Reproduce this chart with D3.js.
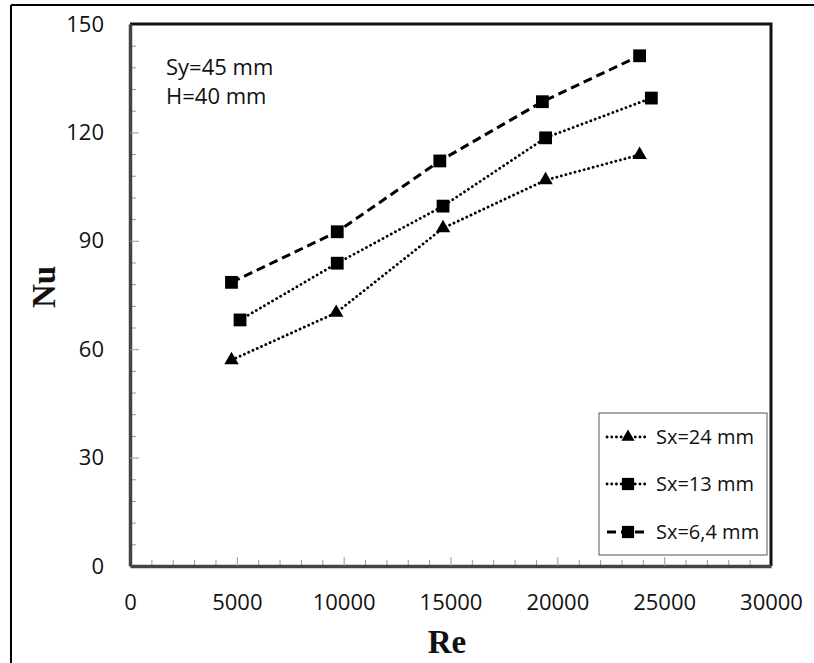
<!DOCTYPE html>
<html>
<head>
<meta charset="utf-8">
<script src="https://cdn.jsdelivr.net/npm/d3@7"></script>
<style>
  html, body { margin: 0; padding: 0; background: #fff; }
  svg { display: block; }
</style>
</head>
<body>
<svg id="chart" width="814" height="663"></svg>
<script>
// ---- data ----
const reSx24 = [4750, 9650, 14650, 19450, 23850];
const nuSx24 = [57.0, 70.1, 93.5, 106.8, 113.8];
const reSx13 = [5150, 9700, 14650, 19450, 24400];
const nuSx13 = [68.1, 83.8, 99.6, 118.5, 129.5];
const reSx64 = [4750, 9700, 14500, 19300, 23850];
const nuSx64 = [78.5, 92.5, 112.1, 128.5, 141.2];
const seriesNames = ["Sx=24 mm", "Sx=13 mm", "Sx=6,4 mm"];
const xTicks = [0, 5000, 10000, 15000, 20000, 25000, 30000];
const yTicks = [0, 30, 60, 90, 120, 150];
const annotations = ["Sy=45 mm", "H=40 mm"];
const xTitle = "Re";
const yTitle = "Nu";

const series = [
  { name: seriesNames[0], re: reSx24, nu: nuSx24, marker: "triangle", dash: "dot" },
  { name: seriesNames[1], re: reSx13, nu: nuSx13, marker: "square", dash: "dot" },
  { name: seriesNames[2], re: reSx64, nu: nuSx64, marker: "square", dash: "dash" }
];

// ---- layout ----
const svg = d3.select("#chart");
const L = 130, R = 771, T = 24, B = 566;
const x = d3.scaleLinear().domain([0, 30000]).range([L, R]);
const y = d3.scaleLinear().domain([0, 150]).range([B, T]);
const FONT = "'Open Sans', 'Noto Sans', sans-serif";
const SERIF = "'Liberation Serif', 'DejaVu Serif', serif";

// outer frame (left & top visible)
svg.append("line").attr("x1", 11).attr("x2", 11).attr("y1", 5).attr("y2", 663)
  .attr("stroke", "#000").attr("stroke-width", 2);
svg.append("line").attr("x1", 11).attr("x2", 814).attr("y1", 5).attr("y2", 5)
  .attr("stroke", "#000").attr("stroke-width", 2);

// plot area border top/right
svg.append("path")
  .attr("d", `M${L},${T}H${R}V${B}`)
  .attr("fill", "none").attr("stroke", "#111").attr("stroke-width", 3);

// minor ticks
const xMinor = d3.range(0, 30001, 1000).filter(v => v % 5000 !== 0);
const yMinor = d3.range(0, 151, 6).filter(v => v % 30 !== 0);

svg.append("g").attr("transform", `translate(0,${B})`)
  .call(d3.axisBottom(x).tickValues(xMinor).tickSize(-6).tickFormat(""))
  .call(g => g.select(".domain").remove())
  .call(g => g.selectAll("line").attr("stroke", "#999").attr("stroke-width", 1));
svg.append("g").attr("transform", `translate(${L},0)`)
  .call(d3.axisLeft(y).tickValues(yMinor).tickSize(-6).tickFormat(""))
  .call(g => g.select(".domain").remove())
  .call(g => g.selectAll("line").attr("stroke", "#999").attr("stroke-width", 1));

// major axes
const xAxis = svg.append("g").attr("transform", `translate(0,${B})`)
  .call(d3.axisBottom(x).tickValues(xTicks).tickSize(-9).tickSizeOuter(0).tickPadding(28).tickFormat(d3.format("d")));
const yAxis = svg.append("g").attr("transform", `translate(${L},0)`)
  .call(d3.axisLeft(y).tickValues(yTicks).tickSize(-9).tickSizeOuter(0).tickPadding(26));
[xAxis, yAxis].forEach(g => {
  g.selectAll(".tick line").attr("stroke", "#999").attr("stroke-width", 1);
  g.select(".domain").attr("stroke", "#444").attr("stroke-width", 3.5);
  g.selectAll("text").attr("font-family", FONT).attr("font-size", 22).attr("fill", "#111");
});
xAxis.selectAll(".tick").filter(d => d === 0 || d === 30000).select("line").remove();
yAxis.selectAll(".tick").filter(d => d === 0 || d === 150).select("line").remove();

// axis titles
svg.append("text").attr("x", 447).attr("y", 653)
  .attr("text-anchor", "middle")
  .attr("font-family", SERIF)
  .attr("font-weight", "bold").attr("font-size", 33).attr("fill", "#111")
  .text(xTitle);
svg.append("text")
  .attr("transform", "translate(55,287) rotate(-90)")
  .attr("text-anchor", "middle")
  .attr("font-family", SERIF)
  .attr("font-weight", "bold").attr("font-size", 33).attr("fill", "#111")
  .text(yTitle);

// annotations
annotations.forEach((t, i) => {
  svg.append("text").attr("x", 166).attr("y", 75 + i * 29)
    .attr("font-family", FONT).attr("font-size", 22).attr("fill", "#111").text(t);
});

// series
function styleLine(sel, s) {
  if (s.dash === "dot") {
    sel.attr("stroke-width", 2.8).attr("stroke-dasharray", "0.1 4.6").attr("stroke-linecap", "round");
  } else {
    sel.attr("stroke-width", 3).attr("stroke-dasharray", "9 5").attr("stroke-linecap", "butt");
  }
  return sel;
}
const symTri = d3.symbol().type(d3.symbolTriangle).size(90);
const symSq = d3.symbol().type(d3.symbolSquare).size(164);

const line = d3.line().x(d => x(d[0])).y(d => y(d[1]));
series.forEach(s => {
  const pts = s.re.map((r, i) => [r, s.nu[i]]);
  styleLine(svg.append("path").datum(pts).attr("d", line).attr("fill", "none").attr("stroke", "#000"), s);
  svg.append("g").selectAll("path").data(pts).join("path")
    .attr("transform", d => `translate(${x(d[0])},${y(d[1])})`)
    .attr("d", s.marker === "triangle" ? symTri() : symSq())
    .attr("fill", "#000");
});

// legend
const lg = svg.append("g");
lg.append("rect").attr("x", 599).attr("y", 413).attr("width", 168).attr("height", 142)
  .attr("fill", "#fff").attr("stroke", "#555").attr("stroke-width", 1);
const legendY = [437, 484, 532];
series.forEach((s, i) => {
  const yy = legendY[i];
  styleLine(lg.append("line").attr("x1", 607).attr("x2", 649).attr("y1", yy).attr("y2", yy).attr("stroke", "#000"), s);
  lg.append("path").attr("transform", `translate(628,${yy})`)
    .attr("d", s.marker === "triangle" ? d3.symbol().type(d3.symbolTriangle).size(75)() : d3.symbol().type(d3.symbolSquare).size(150)())
    .attr("fill", "#000");
  lg.append("text").attr("x", 656).attr("y", yy).attr("dy", "0.35em")
    .attr("font-family", FONT).attr("font-size", 20).attr("fill", "#111").text(s.name);
});
</script>
</body>
</html>
